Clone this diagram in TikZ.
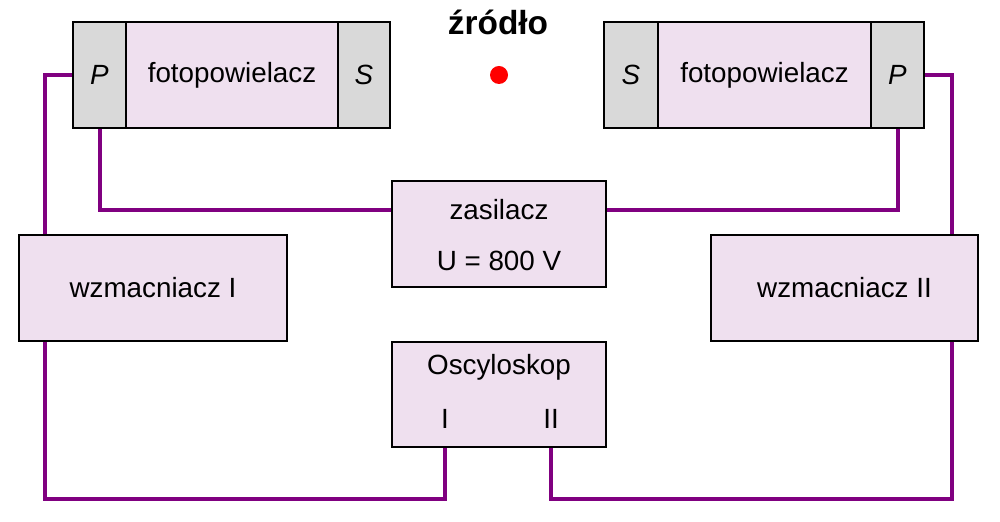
\documentclass[tikz,border=0pt]{standalone}
\usepackage{fontspec}
\setmainfont{Liberation Sans}
\usetikzlibrary{positioning,calc}
\definecolor{boxpink}{RGB}{239,224,239}
\definecolor{endgray}{RGB}{217,217,217}
\definecolor{wirepurple}{RGB}{128,0,128}
\begin{document}
\begin{tikzpicture}[
    x=0.5pt, y=-0.5pt,
    every node/.style={font=\fontsize{13.9}{16}\selectfont},
    unit/.style={draw, line width=1pt, fill=boxpink, minimum height=53pt, inner sep=0pt},
    endcap/.style={draw, line width=1pt, fill=endgray, minimum height=53pt, inner sep=0pt, font=\fontsize{13.9}{16}\selectfont\itshape},
    wire/.style={wirepurple, line width=2pt}
]
\useasboundingbox (0,0) rectangle (1000,522);

% ---- left photomultiplier ----
\node[endcap, minimum width=26.5pt] (pl) at (99.5,75) {P};
\node[unit, minimum width=106.5pt] (fl) at (232,75) {fotopowielacz};
\node[endcap, minimum width=26pt] (sl) at (364,75) {S};

% ---- right photomultiplier ----
\node[endcap, minimum width=27pt] (sr) at (631,75) {S};
\node[unit, minimum width=106.5pt] (fr) at (764.5,75) {fotopowielacz};
\node[endcap, minimum width=26.5pt] (pr) at (897.5,75) {P};

% ---- source ----
\node[font=\fontsize{16.7}{19}\selectfont\bfseries] (zr) at (498,22) {źródło};
\fill[red] (499,75) circle (4.5pt);

% ---- supply, amplifiers, scope ----
\node[unit, minimum width=107pt] (zas) at (499,234) {};
\node (zast) at (499,210) {zasilacz};
\node (zasu) at (499,261) {U = 800 V};

\node[unit, minimum width=134pt] (wz1) at (153,288) {wzmacniacz I};
\node[unit, minimum width=133.5pt] (wz2) at (844.5,288) {wzmacniacz II};

\node[unit, minimum width=107pt, minimum height=52.5pt] (osc) at (499,394.5) {};
\node (osct) at (499,367) {Oscyloskop};
\node (oI) at (445,419) {I};
\node (oII) at (551,419) {II};

% ---- wiring ----
\coordinate (w1) at ([xshift=13.5pt]wz1.north west);
\coordinate (w2) at ([xshift=-13.5pt]wz2.north east);
\coordinate (bus) at (0,499);
\draw[wire] (pl.west) -| (w1);
\draw[wire] (pr.east) -| (w2);
\draw[wire] (pl.south) |- (zast.west -| zas.west);
\draw[wire] (pr.south) |- (zast.east -| zas.east);
\draw[wire] (w1 |- wz1.south) -- (w1 |- bus) -- (oI |- bus) -- (oI |- osc.south);
\draw[wire] (w2 |- wz2.south) -- (w2 |- bus) -- (oII |- bus) -- (oII |- osc.south);
\end{tikzpicture}
\end{document}
